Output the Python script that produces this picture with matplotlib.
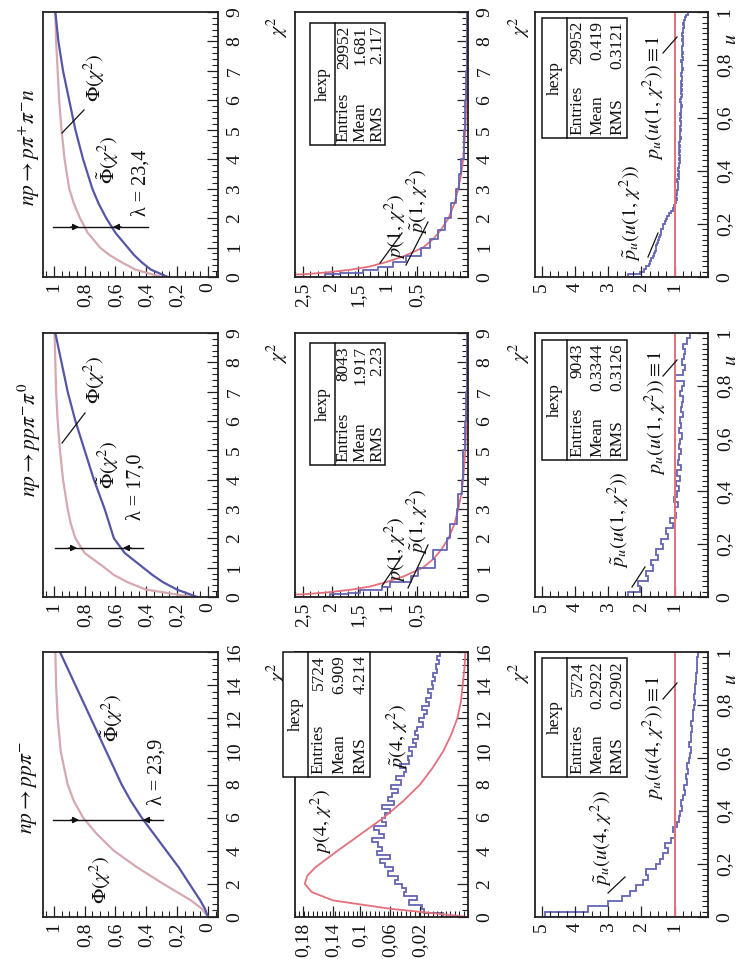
import matplotlib
matplotlib.use("Agg")
import matplotlib.pyplot as plt
from matplotlib.ticker import MultipleLocator, FixedLocator, FixedFormatter, FuncFormatter
from matplotlib.patches import Rectangle, FancyArrowPatch

# ---------------- data ----------------
REACTIONS = [r"$np \rightarrow p\pi^{+}\pi^{-}n$", r"$np \rightarrow pp\pi^{-}\pi^{0}$", r"$np \rightarrow pp\pi^{-}$"]
LAMBDAS = ["23,4", "17,0", "23,9"]
NDF = ["1", "1", "4"]
ENTRIES_P = ["29952", "8043", "5724"]
MEAN_P = ["1.681", "1.917", "6.909"]
RMS_P = ["2.117", "2.23", "4.214"]
ENTRIES_U = ["29952", "9043", "5724"]
MEAN_U = ["0.419", "0.3344", "0.2922"]
RMS_U = ["0.3121", "0.3126", "0.2902"]

# cumulative distributions Phi(chi2) (theory) and tilde-Phi (experiment)
PHI1_CHI = [0, 0.25, 0.5, 0.75, 1, 1.5, 2, 2.5, 3, 4, 5, 6, 7, 8, 9]
PHI1_THEO = [0.30, 0.47, 0.56, 0.64, 0.70, 0.78, 0.83, 0.87, 0.90, 0.93, 0.95, 0.965, 0.975, 0.985, 0.99]
PHI1_EXP = [0.26, 0.37, 0.43, 0.48, 0.52, 0.60, 0.66, 0.71, 0.75, 0.81, 0.86, 0.90, 0.94, 0.97, 0.99]
PHI2_CHI = [0, 0.25, 0.5, 0.75, 1, 1.5, 2, 2.5, 3, 4, 5, 6, 7, 8, 9]
PHI2_THEO = [0.10, 0.40, 0.52, 0.61, 0.67, 0.80, 0.86, 0.89, 0.91, 0.94, 0.96, 0.975, 0.985, 0.99, 0.995]
PHI2_EXP = [0.07, 0.20, 0.29, 0.36, 0.42, 0.54, 0.61, 0.64, 0.67, 0.74, 0.80, 0.86, 0.91, 0.95, 0.99]
PHI3_CHI = [0, 0.5, 1, 2, 3, 4, 5, 6, 7, 8, 10, 12, 14, 16]
PHI3_THEO = [0.0, 0.04, 0.11, 0.29, 0.46, 0.61, 0.72, 0.81, 0.87, 0.91, 0.955, 0.975, 0.985, 0.99]
PHI3_EXP = [0.0, 0.02, 0.05, 0.12, 0.19, 0.27, 0.35, 0.43, 0.50, 0.56, 0.66, 0.76, 0.86, 0.96]

# densities p(1, chi2) and tilde-p(1, chi2)
P1_CHI = [0, 0.09, 0.15, 0.25, 0.35, 0.5, 0.7, 1.0, 1.3, 1.6, 2.0, 2.5, 3.0, 3.5, 4, 5, 6, 7, 8, 9]
P1_THEO = [2.6, 1.10, 0.95, 0.78, 0.66, 0.55, 0.43, 0.30, 0.23, 0.18, 0.13, 0.09, 0.065, 0.045, 0.032, 0.018, 0.010, 0.006, 0.004, 0.003]
P1_EXP_A = [2.6, 0.95, 0.85, 0.70, 0.60, 0.50, 0.41, 0.31, 0.25, 0.20, 0.15, 0.11, 0.08, 0.06, 0.045, 0.028, 0.018, 0.012, 0.008, 0.006]
P1_EXP_B = [2.6, 0.92, 0.80, 0.72, 0.57, 0.52, 0.38, 0.33, 0.22, 0.23, 0.14, 0.12, 0.07, 0.065, 0.04, 0.03, 0.02, 0.012, 0.009, 0.006]

# density p(4, chi2): theory curve and experimental histogram (bins of 0.25)
P4_CHI = [0, 0.25, 0.5, 1, 1.5, 2, 2.5, 3, 4, 5, 6, 7, 8, 9, 10, 11, 12, 13, 14, 15, 16]
P4_THEO = [0.0, 0.043, 0.088, 0.152, 0.176, 0.184, 0.181, 0.172, 0.147, 0.121, 0.095, 0.073, 0.054, 0.040, 0.028, 0.019, 0.012, 0.008, 0.006, 0.004, 0.003]
P4_EXP = [0.028, 0.050, 0.052, 0.066, 0.058, 0.072, 0.070, 0.074,
          0.082, 0.079, 0.090, 0.084, 0.094, 0.099, 0.088, 0.103,
          0.097, 0.101, 0.108, 0.095, 0.100, 0.106, 0.092, 0.097,
          0.094, 0.088, 0.097, 0.083, 0.090, 0.086, 0.079, 0.087,
          0.076, 0.081, 0.072, 0.070, 0.077, 0.066, 0.068, 0.063,
          0.066, 0.059, 0.062, 0.056, 0.060, 0.057, 0.051, 0.055,
          0.050, 0.046, 0.052, 0.044, 0.047, 0.042, 0.045, 0.040,
          0.041, 0.037, 0.040, 0.035, 0.036, 0.033, 0.035, 0.031]

# u-distributions: row 1 in bins of 0.01, rows 2-3 in bins of 0.02
U1_EXP = [2.40, 2.05, 1.92, 1.85, 1.78, 1.74, 1.70, 1.66, 1.63, 1.60,
          1.57, 1.55, 1.52, 1.50, 1.47, 1.45, 1.42, 1.40, 1.36, 1.34,
          1.30, 1.27, 1.22, 1.18, 1.12, 1.06, 1.02, 0.98, 0.96, 0.94,
          0.95, 0.92, 0.93, 0.90, 0.91, 0.89, 0.92, 0.88, 0.90, 0.87,
          0.89, 0.86, 0.88, 0.85, 0.87, 0.84, 0.88, 0.85, 0.86, 0.83,
          0.86, 0.84, 0.82, 0.85, 0.83, 0.81, 0.84, 0.82, 0.80, 0.83,
          0.81, 0.83, 0.80, 0.82, 0.79, 0.81, 0.83, 0.80, 0.78, 0.81,
          0.79, 0.82, 0.78, 0.80, 0.77, 0.79, 0.81, 0.78, 0.76, 0.79,
          0.77, 0.80, 0.76, 0.78, 0.75, 0.77, 0.79, 0.76, 0.74, 0.77,
          0.75, 0.78, 0.74, 0.76, 0.73, 0.74, 0.72, 0.70, 0.66, 0.60]
U2_EXP = [2.40, 2.05, 2.10, 1.80, 1.85, 1.65, 1.70, 1.50, 1.55, 1.35,
          1.40, 1.20, 1.25, 1.05, 1.15, 0.95, 1.00, 0.90, 1.02, 0.92,
          0.88, 0.96, 0.85, 0.92, 0.82, 0.90, 0.86, 0.80, 0.88, 0.83,
          0.78, 0.86, 0.80, 0.84, 0.76, 0.82, 0.79, 0.75, 0.83, 0.78,
          0.72, 1.00, 0.76, 0.70, 0.78, 0.72, 0.68, 0.74, 0.62, 0.55]
U3_EXP = [4.9, 3.6, 3.0, 2.6, 2.35, 2.15, 1.95, 1.80, 1.85, 1.55,
          1.45, 1.35, 1.20, 1.30, 1.10, 1.00, 1.05, 0.92, 0.88, 0.84,
          0.78, 0.80, 0.74, 0.70, 0.72, 0.64, 0.66, 0.60, 0.62, 0.56,
          0.55, 0.52, 0.56, 0.50, 0.52, 0.48, 0.50, 0.45, 0.46, 0.42,
          0.40, 0.42, 0.38, 0.40, 0.36, 0.35, 0.34, 0.33, 0.32, 0.30]
U_FLAT = 1.0

PHI_TICKS = [0, 0.2, 0.4, 0.6, 0.8, 1.0]
P1_TICKLABELS = ["0,5", "1", "1,5", "2", "2,5"]
P4_TICKLABELS = ["0,02", "0,06", "0,1", "0,14", "0,18"]
U_TICKS = [1, 2, 3, 4, 5]

# ---------------- style ----------------
plt.rcParams['font.family'] = ['Liberation Serif', 'DejaVu Serif']
plt.rcParams['mathtext.fontset'] = 'stix'

W, H = 743, 974
fig = plt.figure(figsize=(W / 100, H / 100), dpi=100)
fig.patch.set_facecolor('white')

C_THEO = '#d6a8b0'
C_EXP = '#5656a8'
C_RED = '#e2707c'
C_HIST = '#6464b4'
TXT = '#111111'
FS_TICK = 14
FS_TXT = 14.5
FS_TAB = 12.5

BOX_X = [(43, 218), (295, 468), (535, 708)]
BOX_Y = [(12, 277), (333, 597), (652, 917)]


def comma(v, pos=None):
    s = ('%.3f' % v).rstrip('0').rstrip('.')
    if s in ('-0', ''):
        s = '0'
    return s.replace('.', ',')


def make_ax(col, row):
    x0, x1 = BOX_X[col]
    y0, y1 = BOX_Y[row]
    ax = fig.add_axes([x0 / W, 1 - y1 / H, (x1 - x0) / W, (y1 - y0) / H])
    ax.set_facecolor('white')
    for s in ax.spines.values():
        s.set_linewidth(1.3)
        s.set_color('#222222')
    ax.yaxis.tick_right()
    ax.xaxis.tick_bottom()
    ax.tick_params(axis='both', which='both', direction='in', colors='#222222',
                   labelcolor=TXT, labelsize=FS_TICK)
    ax.tick_params(which='major', length=8, width=0.9)
    ax.tick_params(which='minor', length=4, width=0.8)
    ax.tick_params(axis='x', labelrotation=90, pad=4)
    ax.tick_params(axis='y', labelrotation=90, pad=6)
    return ax


def finish_labels(ax):
    for lb in ax.get_yticklabels():
        lb.set_va('center')
        lb.set_ha('left')


def ptext(x, y, s, size=FS_TXT, ha='center', va='center', **kw):
    fig.text(x / W, 1 - y / H, s, rotation=90, rotation_mode='anchor',
             ha=ha, va=va, fontsize=size, color=TXT, **kw)


def pline(pts, lw=0.9):
    xs = [p[0] / W for p in pts]
    ys = [1 - p[1] / H for p in pts]
    fig.add_artist(plt.Line2D(xs, ys, color='#111111', lw=lw))


def table(x0, x1, y0, y1, xsep, entries, mean, rms):
    fig.add_artist(Rectangle((x0 / W, 1 - y1 / H), (x1 - x0) / W, (y1 - y0) / H,
                             transform=fig.transFigure, fill=True, facecolor='white',
                             edgecolor='#111111', lw=1.1, zorder=5))
    fig.add_artist(plt.Line2D([xsep / W, xsep / W], [1 - y0 / H, 1 - y1 / H],
                              color='#111111', lw=1.1, zorder=6))
    ptext((x0 + xsep) / 2, (y0 + y1) / 2, 'hexp', FS_TAB, zorder=7)
    step = (x1 - xsep) / 3.0
    for i, (name, val) in enumerate([('Entries', entries), ('Mean', mean), ('RMS', rms)]):
        xc = xsep + step * (i + 0.5) + 0.5
        ptext(xc, y1 - 3, name, FS_TAB, ha='left', zorder=7)
        ptext(xc, y0 + 3, val, FS_TAB, ha='right', zorder=7)


chi_ranges = [(0, 9), (0, 9), (0, 16)]
phi_data = [(PHI1_CHI, PHI1_THEO, PHI1_EXP), (PHI2_CHI, PHI2_THEO, PHI2_EXP), (PHI3_CHI, PHI3_THEO, PHI3_EXP)]

# ---------------- column 1 : Phi ----------------
for row in range(3):
    ax = make_ax(0, row)
    chi, th, ex = phi_data[row]
    ax.plot(th, chi, color=C_THEO, lw=1.6)
    ax.plot(ex, chi, color=C_EXP, lw=1.6)
    ax.set_xlim(1.07, -0.065)
    ax.set_ylim(*chi_ranges[row])
    ax.xaxis.set_major_locator(FixedLocator(PHI_TICKS))
    ax.xaxis.set_minor_locator(MultipleLocator(0.05))
    ax.xaxis.set_major_formatter(FuncFormatter(comma))
    if row < 2:
        ax.yaxis.set_major_locator(MultipleLocator(1))
        ax.yaxis.set_minor_locator(MultipleLocator(0.2))
    else:
        ax.yaxis.set_major_locator(MultipleLocator(2))
        ax.yaxis.set_minor_locator(MultipleLocator(0.4))
    ax.yaxis.set_major_formatter(FuncFormatter(lambda v, p: '%d' % round(v)))
    finish_labels(ax)

# titles, labels, arrows for Phi panels (file-pixel layout)
ptext(29, 147, REACTIONS[0], 15.5)
ptext(29, 440, REACTIONS[1], 15.5)
ptext(29, 788, REACTIONS[2], 15.5)

ptext(95, 78, r'$\Phi(\chi^2)$', FS_TXT)
pline([(84, 110), (62, 133)])
ptext(108, 160, r'$\tilde{\Phi}(\chi^2)$', FS_TXT)
ptext(141, 183, 'λ = ' + LAMBDAS[0], FS_TXT)

ptext(95, 380, r'$\Phi(\chi^2)$', FS_TXT)
pline([(85, 413), (62, 443)])
ptext(108, 465, r'$\tilde{\Phi}(\chi^2)$', FS_TXT)
ptext(136, 487, 'λ = ' + LAMBDAS[1], FS_TXT)

ptext(101, 880, r'$\Phi(\chi^2)$', FS_TXT)
ptext(112, 718, r'$\tilde{\Phi}(\chi^2)$', FS_TXT)
ptext(157, 772, 'λ = ' + LAMBDAS[2], FS_TXT)

arrows = [(227, 53, 148, 82, 110), (548, 55, 143, 80, 120), (820, 53, 163, 82, 140)]
for (ya, xa, xb, ha1, ha2) in arrows:
    pline([(xa, ya), (xb, ya)], lw=1.0)
    fig.add_artist(FancyArrowPatch(((ha1 - 14) / W, 1 - ya / H), (ha1 / W, 1 - ya / H),
                   transform=fig.transFigure, arrowstyle='-|>', mutation_scale=9, color='#111111', lw=1.0))
    fig.add_artist(FancyArrowPatch(((ha2 + 14) / W, 1 - ya / H), (ha2 / W, 1 - ya / H),
                   transform=fig.transFigure, arrowstyle='-|>', mutation_scale=9, color='#111111', lw=1.0))

# chi2 axis titles
for y in (27, 353, 673):
    ptext(278, y, r'$\chi^2$', FS_TXT)
    ptext(520, y, r'$\chi^2$', FS_TXT)

# ---------------- column 2 : p ----------------
P1_EDGE = 1.153
for row in range(3):
    ax = make_ax(1, row)
    if row < 2:
        ex = P1_EXP_A if row == 0 else P1_EXP_B
        ax.plot(P1_THEO, P1_CHI, color=C_RED, lw=1.3)
        ax.plot(ex, P1_CHI, color=C_HIST, lw=1.3, drawstyle='steps-post')
        ax.set_xlim(P1_EDGE, 0)
        ax.set_ylim(0, 9)
        pos = [(468 - p) / 150.0 for p in (417, 387, 358, 332, 303)]
        ax.xaxis.set_major_locator(FixedLocator(pos))
        ax.xaxis.set_major_formatter(FixedFormatter(P1_TICKLABELS))
        ax.xaxis.set_minor_locator(MultipleLocator(0.05))
        ax.yaxis.set_major_locator(MultipleLocator(1))
        ax.yaxis.set_minor_locator(MultipleLocator(0.2))
    else:
        edges = [0.25 * i for i in range(len(P4_EXP) + 1)]
        ax.stairs(P4_EXP, edges, orientation='horizontal', color=C_HIST, lw=1.3)
        ax.plot(P4_THEO, P4_CHI, color=C_RED, lw=1.3)
        ax.set_xlim(0.195, 0)
        ax.set_ylim(0, 16)
        pos = [(468 - p) / 886.0 for p in (420, 390, 360, 333, 303)]
        ax.xaxis.set_major_locator(FixedLocator(pos))
        ax.xaxis.set_major_formatter(FixedFormatter(P4_TICKLABELS))
        ax.xaxis.set_minor_locator(MultipleLocator(0.005))
        ax.yaxis.set_major_locator(MultipleLocator(2))
        ax.yaxis.set_minor_locator(MultipleLocator(0.4))
    ax.yaxis.set_major_formatter(FuncFormatter(lambda v, p: '%d' % round(v)))
    finish_labels(ax)

table(310, 385, 23, 145, 335, ENTRIES_P[0], MEAN_P[0], RMS_P[0])
table(310, 385, 343, 465, 335, ENTRIES_P[1], MEAN_P[1], RMS_P[1])
table(283, 370, 652, 777, 308, ENTRIES_P[2], MEAN_P[2], RMS_P[2])

ptext(396, 227, r'$p(1,\,\chi^2)$', FS_TXT)
ptext(418, 202, r'$\tilde{p}(1,\,\chi^2)$', FS_TXT)
pline([(402, 233), (380, 263)])
pline([(428, 222), (406, 265)])
ptext(396, 550, r'$p(1,\,\chi^2)$', FS_TXT)
ptext(418, 522, r'$\tilde{p}(1,\,\chi^2)$', FS_TXT)
pline([(402, 556), (382, 586)])
pline([(428, 545), (408, 588)])
ptext(322, 822, r'$p(4,\,\chi^2)$', FS_TXT)
ptext(398, 737, r'$\tilde{p}(4,\,\chi^2)$', FS_TXT)

# ---------------- column 3 : u ----------------
u_data = [U1_EXP, U2_EXP, U3_EXP]
for row in range(3):
    ax = make_ax(2, row)
    vals = u_data[row]
    width = 1.0 / len(vals)
    edges = [width * i for i in range(len(vals) + 1)]
    ax.axvline(U_FLAT, color=C_RED, lw=1.4)
    ax.stairs(vals, edges, orientation='horizontal', color=C_HIST, lw=1.3)
    ax.set_xlim(5.2, 0)
    ax.set_ylim(0, 1)
    ax.xaxis.set_major_locator(FixedLocator(U_TICKS))
    ax.xaxis.set_minor_locator(MultipleLocator(0.25))
    ax.xaxis.set_major_formatter(FuncFormatter(lambda v, p: '%d' % round(v)))
    ax.yaxis.set_major_locator(MultipleLocator(0.2))
    ax.yaxis.set_minor_locator(MultipleLocator(0.02))
    ax.yaxis.set_major_formatter(FuncFormatter(comma))
    finish_labels(ax)

table(542, 627, 18, 138, 567, ENTRIES_U[0], MEAN_U[0], RMS_U[0])
table(542, 627, 340, 460, 567, ENTRIES_U[1], MEAN_U[1], RMS_U[1])
table(542, 627, 658, 777, 567, ENTRIES_U[2], MEAN_U[2], RMS_U[2])

centers_t = [(631, 213), (619, 520), (602, 838)]
centers_f = [(654, 98), (656, 413), (654, 738)]
for row in range(3):
    n = NDF[row]
    ptext(*centers_t[row], r'$\tilde{p}_u(u(%s,\,\chi^2))$' % n, FS_TXT)
    ptext(*centers_f[row], r'$p_u(u(%s,\,\chi^2)) \equiv 1$' % n, FS_TXT)
pline([(648, 257), (658, 233)])
pline([(632, 587), (645, 567)])
pline([(608, 893), (625, 877)])
for y in (37, 360, 683):
    pline([(663, y + 16), (677, y)])
for row in range(3):
    ptext(731, BOX_Y[row][0] + 27, r'$u$', FS_TXT)

fig.savefig('out.png', dpi=100, facecolor='white')
